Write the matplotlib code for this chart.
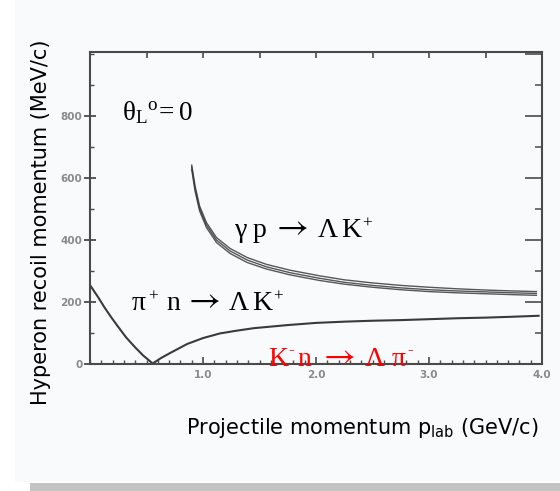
import matplotlib
matplotlib.use("Agg")
import matplotlib.pyplot as plt
from matplotlib.patches import Rectangle
from matplotlib.ticker import MultipleLocator, FixedLocator

# ---- data ----
# K- n -> Lambda pi-  (recoil momentum, MeV/c)
kn_x = [0.0, 0.07, 0.13, 0.19, 0.25, 0.32, 0.40, 0.47, 0.555,
        0.63, 0.71, 0.86, 1.0, 1.15, 1.3, 1.45, 1.6, 1.75, 2.0, 2.25,
        2.5, 2.75, 3.0, 3.25, 3.5, 3.75, 3.97]
kn_y = [253, 215, 180, 148, 118, 84, 52, 26, 0,
        18, 34, 63, 82, 97, 106, 114, 119, 124, 131, 135,
        138, 140, 143, 146, 148, 151, 154]

# gamma p -> Lambda K+  (band of three calculations)
gp_x = [0.90, 0.93, 0.97, 1.03, 1.12, 1.24, 1.39, 1.56, 1.77,
        2.03, 2.25, 2.5, 2.75, 3.0, 3.25, 3.5, 3.75, 3.95]
gp_y_hi = [640, 572, 508, 455, 406, 371, 342, 320, 301,
           283, 270, 260, 252, 246, 241, 237, 234, 232]
gp_y_mid = [634, 564, 500, 447, 398, 363, 334, 312, 293,
            275, 262, 252, 244, 238, 234, 231, 228, 226]
gp_y_lo = [626, 556, 492, 439, 390, 355, 326, 305, 286,
           268, 256, 246, 238, 232, 228, 225, 222, 220]

x_major = [1.0, 2.0, 3.0, 4.0]
x_major_labels = ["1.0", "2.0", "3.0", "4.0"]
y_major = [0, 200, 400, 600, 800]
y_major_labels = ["0", "200", "400", "600", "800"]

W, H = 560, 491
plt.rcParams["mathtext.fontset"] = "custom"
plt.rcParams["mathtext.rm"] = "Liberation Serif"
plt.rcParams["mathtext.it"] = "Liberation Serif"
plt.rcParams["mathtext.bf"] = "Liberation Serif:bold"

fig = plt.figure(figsize=(W / 100, H / 100), dpi=100)
fig.patch.set_facecolor("white")
bg = "#f9fafc"
fig.patches.append(Rectangle((15 / W, 9 / H), 1 - 15 / W, 1 - 9 / H,
                             transform=fig.transFigure, facecolor=bg,
                             edgecolor="none", zorder=-10))
fig.patches.append(Rectangle((30 / W, 0), 1 - 30 / W, 8 / H,
                             transform=fig.transFigure, facecolor="#c3c3c3",
                             edgecolor="none", zorder=-10))

ax = fig.add_axes([90 / W, (H - 363.5) / H, 452 / W, (363.5 - 52) / H])
ax.set_facecolor(bg)
ax.set_xlim(0, 4.0)
ax.set_ylim(0, 1005)

line_c = "#3a3a3a"
ax.plot(kn_x, kn_y, color=line_c, lw=1.5, solid_joinstyle="round")
for ys in (gp_y_hi, gp_y_mid, gp_y_lo):
    ax.plot(gp_x, ys, color=line_c, lw=1.0, alpha=0.85, solid_joinstyle="round")

spine_c = "#4a4a4a"
for s in ax.spines.values():
    s.set_color(spine_c)
    s.set_linewidth(1.5)

tick_font = dict(fontsize=7.5, color="#8a8a8a", fontweight="bold")
ax.xaxis.set_major_locator(FixedLocator(x_major))
ax.set_xticklabels(x_major_labels, **tick_font)
ax.xaxis.set_minor_locator(MultipleLocator(0.1))
ax.yaxis.set_major_locator(FixedLocator(y_major))
ax.set_yticklabels(y_major_labels, **tick_font)
ax.yaxis.set_minor_locator(MultipleLocator(100))
ax.tick_params(axis="x", which="major", direction="in", length=5, width=1.2,
               color=spine_c, pad=5, top=False)
ax.tick_params(axis="x", which="minor", direction="in", length=3, width=1.0,
               color=spine_c, top=False)
ax.tick_params(axis="y", which="major", direction="inout", length=9, width=1.3,
               color=spine_c, pad=1, right=False)
ax.tick_params(axis="y", which="minor", direction="in", length=3, width=1.0,
               color=spine_c, right=False)

# top axis ticks every 0.5, right axis ticks every 100
top = ax.secondary_xaxis("top")
top.xaxis.set_major_locator(MultipleLocator(0.5))
top.tick_params(direction="in", length=4, width=1.2, color=spine_c, labeltop=False)
top.spines["top"].set_visible(False)
right = ax.secondary_yaxis("right")
right.yaxis.set_major_locator(MultipleLocator(200))
right.yaxis.set_minor_locator(MultipleLocator(100))
right.tick_params(which="major", direction="in", length=12, width=1.2,
                  color=spine_c, labelright=False)
right.tick_params(which="minor", direction="in", length=5, width=1.1,
                  color=spine_c)
right.spines["right"].set_visible(False)


def rich(y_px, pieces, size, color="black"):
    """Label made of normal / superscript / arrow pieces at given x pixels."""
    size_px = size * 100 / 72
    for s, kind, x_px in pieces:
        family, fs, dy = "Liberation Serif", size, 0.0
        if kind == "sup":
            fs, dy = size * 0.62, size_px * 0.32
        elif kind == "supm":
            fs, dy = size * 0.62, size_px * 0.42
        elif kind == "arrow":
            family, fs = "STIXGeneral", size * 1.25
        fig.text(x_px / W, 1 - (y_px - dy) / H, s, fontsize=fs,
                 family=family, color=color, ha="left", va="baseline")


fig.text(122 / W, 1 - 120 / H, r"$\mathrm{θ_{L}{}^{o}\!= 0}$", fontsize=19.5,
         family="Liberation Serif", ha="left", va="baseline")
rich(237, [("γ", "n", 235), ("p", "n", 253), ("→", "arrow", 277),
           ("Λ", "n", 318), ("K", "n", 341), ("+", "sup", 362)], 20)
rich(310, [("π", "n", 132), ("+", "sup", 148), ("n", "n", 166),
           ("→", "arrow", 189), ("Λ", "n", 229), ("K", "n", 252),
           ("+", "sup", 273)], 20)
rich(366, [("K", "n", 268), ("-", "supm", 288), ("n", "n", 297),
           ("→", "arrow", 324), ("Λ", "n", 365), ("π", "n", 392),
           ("-", "supm", 407)], 20, color="#ff0000")

fig.text(41 / W, 1 - 222 / H, "Hyperon recoil momentum (MeV/c)", rotation=90,
         ha="center", va="center", fontsize=15, family="DejaVu Sans")
fig.text(362 / W, 1 - 434 / H, r"Projectile momentum p$_{\mathregular{lab}}$ (GeV/c)",
         ha="center", va="baseline", fontsize=15, family="DejaVu Sans")

fig.savefig("out.png", dpi=100, facecolor=fig.get_facecolor())
